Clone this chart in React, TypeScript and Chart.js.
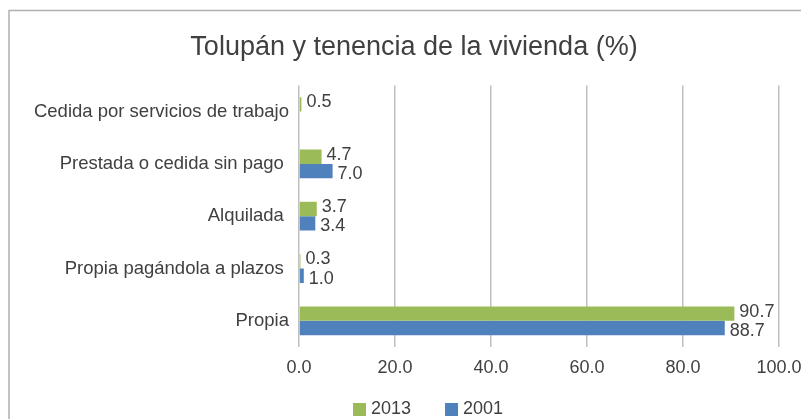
import React, { useEffect, useRef } from "react";
import { Chart, registerables } from "chart.js";

Chart.register(...registerables);

const TITLE = "Tolupán y tenencia de la vivienda (%)";
const categories = [
  "Cedida por servicios de trabajo",
  "Prestada o cedida sin pago ",
  "Alquilada ",
  "Propia pagándola a plazos ",
  "Propia",
];
const seriesNames = ["2013", "2001"];
const values2013 = [0.5, 4.7, 3.7, 0.3, 90.7];
const values2001 = [null, 7.0, 3.4, 1.0, 88.7];
const xTicks = [0, 20, 40, 60, 80, 100];

const GREEN = "#9BBB59";
const BLUE = "#4F81BD";
const TEXT = "#404040";
const FONT = "'Liberation Sans', Arial, sans-serif";

const framePlugin = {
  id: "frame",
  afterLayout(chart: any) {
    const t = chart.titleBlock;
    if (t) {
      t.left = 49;
    }
  },
  beforeDraw(chart: any) {
    const ctx = chart.ctx;
    ctx.save();
    ctx.fillStyle = "#ffffff";
    ctx.fillRect(0, 0, chart.width, chart.height);
    ctx.strokeStyle = "#b0b0b0";
    ctx.lineWidth = 1.5;
    ctx.beginPath();
    ctx.moveTo(9, chart.height + 2);
    ctx.lineTo(9, 10.5);
    ctx.lineTo(chart.width + 2, 10.5);
    ctx.stroke();
    ctx.restore();
  },
};

const labelsPlugin = {
  id: "valueLabels",
  afterDatasetsDraw(chart: any) {
    const ctx = chart.ctx;
    ctx.save();
    ctx.font = `18px ${FONT}`;
    ctx.fillStyle = TEXT;
    ctx.textAlign = "left";
    ctx.textBaseline = "middle";
    chart.data.datasets.forEach((ds: any, di: number) => {
      const meta = chart.getDatasetMeta(di);
      meta.data.forEach((el: any, i: number) => {
        const v = ds.data[i];
        if (v === null || v === undefined) return;
        const dy = di === 0 ? -2 : 3;
        ctx.fillText(Number(v).toFixed(1), el.x + 5, el.y + dy);
      });
    });
    ctx.restore();
  },
};

const legendPlugin = {
  id: "customLegend",
  afterDraw(chart: any) {
    const ctx = chart.ctx;
    ctx.save();
    ctx.font = `18px ${FONT}`;
    ctx.textAlign = "left";
    ctx.textBaseline = "middle";
    let x = 353;
    const y = 409.5;
    chart.data.datasets.forEach((ds: any) => {
      ctx.fillStyle = ds.backgroundColor;
      ctx.fillRect(x, y - 6.5, 13, 13);
      ctx.fillStyle = TEXT;
      ctx.fillText(ds.label, x + 18, y);
      x += 18 + ctx.measureText(ds.label).width + 34;
    });
    ctx.restore();
  },
};

export default function App() {
  const ref = useRef<HTMLCanvasElement | null>(null);

  useEffect(() => {
    if (!ref.current) return;
    Chart.defaults.font.family = FONT;
    const chart = new Chart(ref.current, {
      type: "bar",
      data: {
        labels: categories,
        datasets: [
          {
            label: seriesNames[0],
            data: values2013,
            backgroundColor: GREEN,
            barPercentage: 1,
            categoryPercentage: 0.55,
          },
          {
            label: seriesNames[1],
            data: values2001 as any,
            backgroundColor: BLUE,
            barPercentage: 1,
            categoryPercentage: 0.55,
          },
        ],
      },
      options: {
        indexAxis: "y",
        animation: false,
        responsive: false,
        devicePixelRatio: 1,
        layout: { padding: { left: 0, right: 49, top: 0, bottom: 0 } },
        plugins: {
          legend: { display: false },
          tooltip: { enabled: false },
          title: {
            display: true,
            text: TITLE,
            color: TEXT,
            font: { size: 27, weight: "normal", family: FONT },
            padding: { top: 31, bottom: 22 },
          },
        },
        scales: {
          x: {
            min: 0,
            max: 100,
            afterBuildTicks(scale: any) {
              scale.ticks = xTicks.map((v) => ({ value: v }));
            },
            afterFit(scale: any) {
              scale.height = 72;
            },
            ticks: {
              color: TEXT,
              font: { size: 18 },
              padding: 10,
              maxRotation: 0,
              callback: (v: any) => Number(v).toFixed(1),
            },
            grid: {
              color: "#c0c0c0",
              lineWidth: 1.5,
              drawTicks: false,
            },
            border: { display: false },
          },
          y: {
            afterFit(scale: any) {
              scale.width = 299;
            },
            ticks: {
              color: TEXT,
              font: { size: 18.5 },
              padding: 10,
            },
            grid: { display: false, drawTicks: false },
            border: { display: false },
          },
        },
      },
      plugins: [framePlugin, labelsPlugin, legendPlugin],
    });
    return () => chart.destroy();
  }, []);

  return (
    <div
      style={{
        position: "fixed",
        left: 0,
        top: 0,
        width: 801,
        height: 419,
        overflow: "hidden",
        background: "#fff",
      }}
    >
      <canvas
        ref={ref}
        width={828}
        height={419}
        style={{ display: "block", width: 828, height: 419 }}
      />
    </div>
  );
}
